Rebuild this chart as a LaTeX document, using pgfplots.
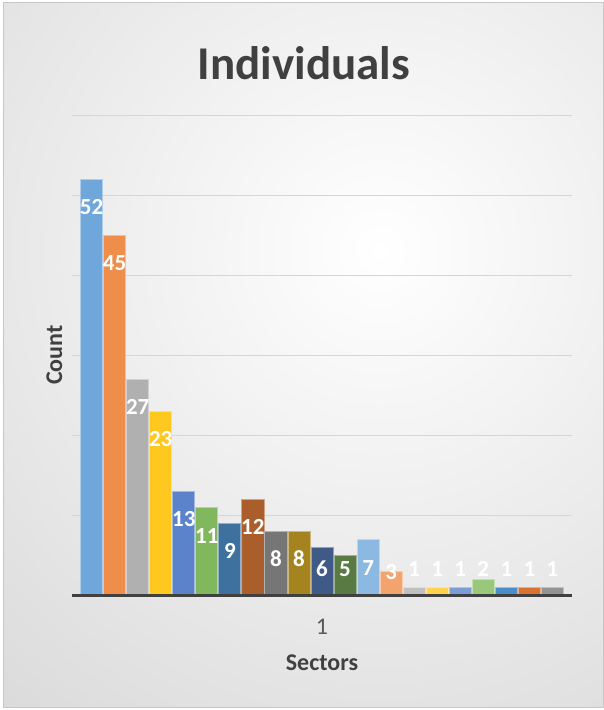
\documentclass[border=0pt]{standalone}
\usepackage{fontspec}
\setmainfont{Carlito}
\usepackage{pgfplots}
\pgfplotsset{compat=1.18}
\definecolor{c1}{HTML}{5B9BD5}
\definecolor{c2}{HTML}{ED7D31}
\definecolor{c3}{HTML}{A5A5A5}
\definecolor{c4}{HTML}{FFC000}
\definecolor{c5}{HTML}{4472C4}
\definecolor{c6}{HTML}{70AD47}
\definecolor{c7}{HTML}{255E91}
\definecolor{c8}{HTML}{9E480E}
\definecolor{c9}{HTML}{636363}
\definecolor{c10}{HTML}{997300}
\definecolor{c11}{HTML}{264478}
\definecolor{c12}{HTML}{43682B}
\definecolor{c13}{HTML}{7CAFDD}
\definecolor{c14}{HTML}{F1975A}
\definecolor{c15}{HTML}{B7B7B7}
\definecolor{c16}{HTML}{FFCD33}
\definecolor{c17}{HTML}{698ED0}
\definecolor{c18}{HTML}{8CC168}
\definecolor{c19}{HTML}{327DC2}
\definecolor{c20}{HTML}{D26012}
\definecolor{c21}{HTML}{848484}
\definecolor{txt}{HTML}{404040}
\definecolor{tick}{HTML}{595959}
\newcommand{\mybar}[4]{%
  \addplot[ybar, bar width=0.96, bar shift=0pt, fill=#1!88!white, draw=#1!50!white, line width=0.8pt,
    nodes near coords,
    nodes near coords style={anchor=center, yshift=#4pt, text=white, font=\fontsize{23}{23}\selectfont\bfseries}]
    coordinates {(#2,#3)};}
\begin{document}
\begin{tikzpicture}
\useasboundingbox (0pt,0pt) rectangle (604pt,710pt);
\begin{scope}
\clip (3pt,2pt) rectangle (603pt,707pt);
\shade[inner color=white, outer color=black!24] (380pt,460pt) circle (1000pt);
\end{scope}
\draw[color=black!22, line width=1pt] (3pt,2pt) rectangle (603pt,707pt);
\begin{axis}[
  at={(72pt,115pt)}, anchor=south west,
  scale only axis, width=500pt, height=480pt,
  xmin=0.15, xmax=21.85, ymin=0, ymax=60,
  /pgf/number format/assume math mode=true,
  axis line style={draw=none},
  ytick={10,20,30,40,50,60}, yticklabels={},
  ymajorgrids, grid style={color=black!16, line width=0.9pt},
  major tick length=0pt,
  xtick={11}, xticklabels={1},
  xticklabel style={anchor=base, yshift=-39pt, text=tick, font=\fontsize{24}{24}\selectfont},
  clip=false,
]
\mybar{c1}{1}{52}{-28}
\mybar{c2}{2}{45}{-28}
\mybar{c3}{3}{27}{-28}
\mybar{c4}{4}{23}{-28}
\mybar{c5}{5}{13}{-28}
\mybar{c6}{6}{11}{-29}
\mybar{c7}{7}{9}{-28}
\mybar{c8}{8}{12}{-28}
\mybar{c9}{9}{8}{-28}
\mybar{c10}{10}{8}{-28}
\mybar{c11}{11}{6}{-22}
\mybar{c12}{12}{5}{-14}
\mybar{c13}{13}{7}{-29}
\mybar{c14}{14}{3}{-1}
\mybar{c15}{15}{1}{17.6}
\mybar{c16}{16}{1}{17.6}
\mybar{c17}{17}{1}{17.6}
\mybar{c18}{18}{2}{9.6}
\mybar{c19}{19}{1}{17.6}
\mybar{c20}{20}{1}{17.6}
\mybar{c21}{21}{1}{17.6}
\draw[color=txt, line width=3pt] (rel axis cs:0,0) -- (rel axis cs:1,0);
\end{axis}
\node[anchor=base, text=txt, font=\fontsize{47}{47}\selectfont\bfseries] at (304pt,630pt) {Individuals};
\node[anchor=base, text=txt, font=\fontsize{24}{24}\selectfont\bfseries] at (322pt,39pt) {Sectors};
\node[anchor=base, rotate=90, text=txt, font=\fontsize{24}{24}\selectfont\bfseries] at (62pt,355pt) {Count};
\end{tikzpicture}
\end{document}
